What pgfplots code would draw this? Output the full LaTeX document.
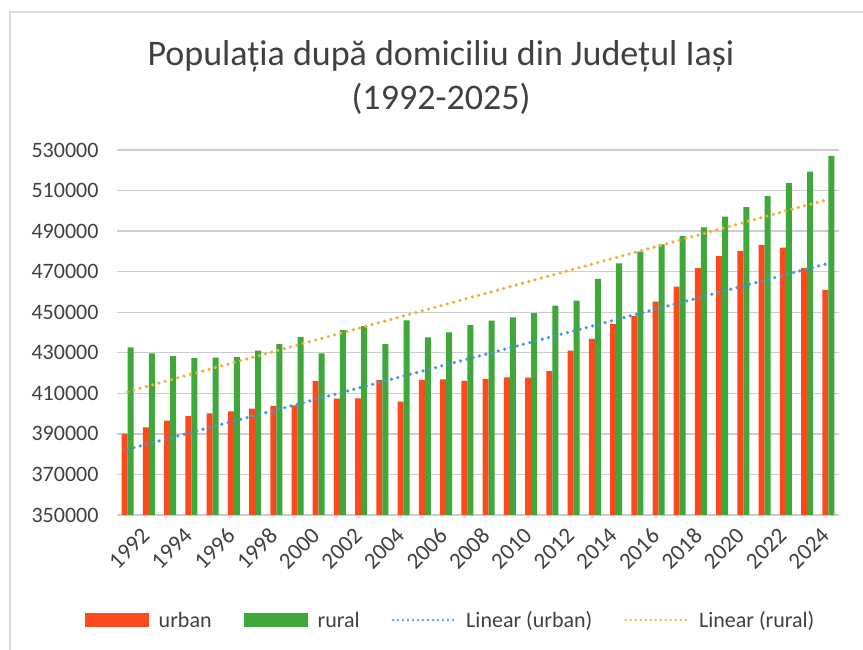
\documentclass[border=0pt]{standalone}
\usepackage{pgfplots}
\pgfplotsset{compat=1.18}
\usepackage{fontspec}
\setmainfont{Carlito}
\definecolor{urbanred}{RGB}{252,74,30}
\definecolor{ruralgreen}{RGB}{62,168,58}
\definecolor{trendblue}{RGB}{70,150,225}
\definecolor{trendorange}{RGB}{242,175,60}
\definecolor{gridgray}{RGB}{205,205,212}
\definecolor{framegray}{RGB}{218,218,224}
\definecolor{txtgray}{RGB}{64,64,64}

\pgfplotstableread{
year urban rural
1992 390000 432700
1993 393200 429700
1994 396500 428400
1995 398800 427300
1996 400100 427600
1997 401100 427800
1998 402400 431000
1999 403800 434300
2000 404100 437800
2001 416200 429700
2002 407400 441200
2003 407500 443200
2004 416600 434300
2005 405900 446000
2006 416600 437600
2007 416900 440100
2008 416200 443600
2009 417100 445800
2010 417900 447500
2011 417700 449500
2012 420900 453200
2013 431000 455700
2014 436800 466500
2015 444200 474100
2016 448100 479900
2017 455200 483500
2018 462600 487600
2019 471700 491900
2020 477700 497100
2021 480200 501800
2022 483200 507300
2023 481800 513600
2024 471700 519300
2025 461000 527100
}\popdata

\begin{document}
\begin{tikzpicture}
\path[use as bounding box] (0pt,0pt) rectangle (863pt,650pt);
% chart frame (left and top edges visible)
\draw[framegray, line width=1.2pt] (10pt,0pt) -- (10pt,638pt) -- (863pt,638pt);
\node[font=\fontsize{36}{43}\selectfont, text=txtgray] at (441pt,594pt) {Populația după domiciliu din Județul Iași};
\node[font=\fontsize{36}{43}\selectfont, text=txtgray] at (441pt,551pt) {(1992-2025)};
\begin{axis}[
    at={(117pt,135pt)}, anchor=south west,
    scale only axis,
    width=722pt, height=365pt,
    xmin=1991.5, xmax=2025.5,
    ymin=350000, ymax=530000,
    ytick={350000,370000,...,530000},
    xtick={1992,1994,...,2024},
    scaled y ticks=false,
    yticklabel style={/pgf/number format/fixed, /pgf/number format/1000 sep={}, font=\fontsize{22}{26}\selectfont, text=txtgray, xshift=-15pt},
    xticklabel style={/pgf/number format/1000 sep={}, font=\fontsize{23}{27}\selectfont, text=txtgray, rotate=45, anchor=north east, inner sep=1pt, yshift=-16pt, xshift=2pt},
    /pgf/number format/assume math mode=true,
    major tick length=0pt,
    axis line style={draw=none},
    ymajorgrids,
    grid style={gridgray, line width=1.3pt},
    legend style={at={(0.462,-0.288)}, anchor=center, draw=none, fill=none,
        font=\fontsize{22}{26}\selectfont, text=txtgray,
        legend columns=4,
        /tikz/every odd column/.append style={column sep=8pt},
        /tikz/every even column/.append style={column sep=30pt}},
    legend cell align=left,
]
\addplot[ybar, bar width=6pt, bar shift=-3pt, fill=urbanred, draw=none,
    legend image code/.code={\fill[urbanred] (0pt,-7pt) rectangle (64pt,7pt);}]
    table[x=year, y=urban] {\popdata};
\addlegendentry{urban}
\addplot[ybar, bar width=6pt, bar shift=3pt, fill=ruralgreen, draw=none,
    legend image code/.code={\fill[ruralgreen] (0pt,-7pt) rectangle (64pt,7pt);}]
    table[x=year, y=rural] {\popdata};
\addlegendentry{rural}
\addplot[trendblue, line width=3.6pt, line cap=round, dash pattern=on 0pt off 6.5pt,
    legend image code/.code={\draw[trendblue, line width=2.6pt, line cap=round, dash pattern=on 0pt off 5pt] (2pt,0pt) -- (64pt,0pt);}]
    coordinates {(1992,382400) (2025,474100)};
\addlegendentry{Linear (urban)}
\addplot[trendorange, line width=3.6pt, line cap=round, dash pattern=on 0pt off 6.5pt,
    legend image code/.code={\draw[trendorange, line width=2.6pt, line cap=round, dash pattern=on 0pt off 5pt] (2pt,0pt) -- (64pt,0pt);}]
    coordinates {(1992,410800) (2025,505700)};
\addlegendentry{Linear (rural)}
\end{axis}
\end{tikzpicture}
\end{document}
